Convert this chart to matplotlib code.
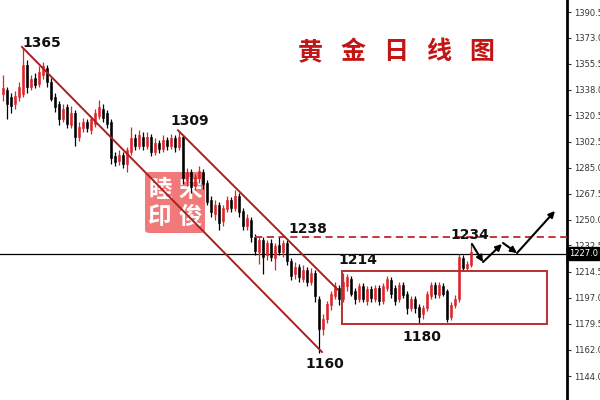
import matplotlib
matplotlib.use("Agg")
import matplotlib.pyplot as plt
from matplotlib.patches import Rectangle, FancyBboxPatch
import numpy as np

# ---------------- data ----------------
opens = [1335,1338,1333,1328,1333,1335,1355,1340,1346,1342,1348,1353,1343,1333,1328,1318,1326,1314,1322,1306,
         1312,1316,1311,1315,1320,1325,1322,1316,1293,1290,1294,1288,1296,1305,1300,1306,1300,1306,1296,1302,
         1298,1304,1300,1305,1299,1306,1276,1282,1273,1278,1282,1275,1263,1254,1260,1249,1257,1263,1258,1266,
         1256,1246,1250,1238,1228,1236,1226,1234,1224,1233,1228,1234,1222,1213,1218,1210,1216,1208,1214,1196,
         1176,1183,1192,1198,1204,1196,1205,1210,1202,1196,1205,1195,1203,1196,1204,1195,1204,1209,1204,1196,
         1206,1200,1190,1196,1191,1186,1190,1198,1206,1199,1205,1202,1184,1192,1196,1224,1217,1219]
highs = [1348,1340,1336,1337,1343,1366,1358,1348,1349,1354,1357,1355,1346,1336,1330,1328,1328,1327,1324,1316,
         1319,1318,1320,1325,1331,1328,1324,1318,1296,1297,1296,1299,1313,1308,1311,1309,1309,1308,1305,1304,
         1307,1306,1308,1307,1310,1307,1285,1284,1281,1286,1284,1277,1266,1263,1262,1260,1266,1265,1270,1268,
         1258,1254,1252,1240,1238,1238,1236,1237,1234,1238,1236,1236,1224,1221,1220,1219,1218,1217,1216,1198,
         1186,1195,1202,1208,1206,1214,1213,1212,1204,1207,1207,1205,1205,1206,1206,1207,1212,1211,1206,1208,
         1208,1202,1198,1198,1193,1192,1202,1208,1208,1208,1207,1203,1194,1199,1227,1226,1222,1234]
lows = [1330,1318,1322,1325,1330,1333,1336,1338,1339,1340,1345,1340,1330,1323,1314,1316,1312,1312,1300,1303,
        1309,1309,1308,1313,1318,1316,1312,1288,1286,1287,1285,1282,1294,1297,1298,1297,1298,1293,1294,1295,
        1296,1297,1298,1296,1297,1274,1273,1268,1270,1275,1271,1260,1252,1250,1243,1246,1255,1255,1256,1252,
        1243,1243,1235,1226,1220,1213,1223,1222,1216,1226,1225,1219,1209,1210,1208,1208,1205,1206,1194,1160,
        1172,1180,1189,1196,1192,1194,1202,1198,1193,1194,1194,1192,1194,1194,1192,1193,1202,1197,1192,1194,
        1197,1186,1188,1187,1180,1183,1188,1196,1197,1197,1198,1181,1182,1190,1194,1215,1216,1218]
closes = [1339,1328,1327,1334,1340,1355,1340,1345,1341,1350,1354,1343,1332,1326,1318,1325,1315,1322,1306,1313,
          1316,1312,1318,1322,1326,1319,1315,1292,1289,1294,1288,1297,1305,1300,1307,1300,1306,1296,1302,1298,
          1304,1300,1305,1299,1306,1278,1282,1272,1279,1283,1274,1262,1255,1260,1248,1258,1263,1258,1266,1255,
          1246,1251,1238,1229,1236,1225,1234,1225,1232,1228,1234,1222,1212,1218,1211,1216,1208,1214,1198,1176,
          1183,1193,1200,1205,1196,1208,1211,1200,1196,1205,1196,1203,1197,1204,1195,1205,1210,1200,1195,1206,
          1199,1190,1196,1190,1184,1190,1200,1206,1200,1206,1200,1183,1192,1196,1225,1217,1220,1228]

tick_values = [1390.57,1373.07,1355.57,1338.07,1320.57,1302.57,1285.07,1267.57,1250.07,1232.57,
               1214.57,1197.07,1179.57,1162.07,1144.07]
tick_labels = ['1390.57','1373.07','1355.57','1338.07','1320.57','1302.57','1285.07','1267.57','1250.07',
               '1232.57','1214.57','1197.07','1179.57','1162.07','1144.07']

current_price = 1227.0
resistance = 1238
box_top, box_bottom = 1215.2, 1179.3

label_texts = ['1365', '1309', '1238', '1214', '1180', '1160', '1234']
label_x = [9.75, 46.75, 76.25, 88.75, 104.75, 80.5, 116.75]
label_y = [1369.6, 1316.8, 1243.7, 1222.7, 1170.5, 1152.3, 1239.6]

title_chars = ['黄', '金', '日', '线', '图']
seal_chars = ['睦', '印', '宋', '俊']

# ---------------- figure ----------------
fig = plt.figure(figsize=(6, 4), dpi=100)
ax = fig.add_axes([0, 0, 567/600, 1])
ax.set_xlim(-0.75, 141)
ax.set_ylim(1127.9, 1398.7)

RED = '#e0232a'
n = len(opens)
x = np.arange(n)
for i in range(n):
    o, h, l, c = opens[i], highs[i], lows[i], closes[i]
    col = RED if c >= o else 'black'
    ax.vlines(x[i], l, h, color=col, lw=0.9, zorder=3)
    ax.add_patch(Rectangle((x[i]-0.3, min(o, c)), 0.6, max(abs(c-o), 0.4),
                           facecolor=col, edgecolor=col, lw=0.4, zorder=3))

# current price line
ax.axhline(current_price, color='black', lw=0.9, zorder=2)
# resistance dashed
ax.plot([63.0, 141], [resistance, resistance], color='#c0292b', lw=1.3, ls=(0, (4, 2.5)), zorder=4)

# channel lines
CH = '#a8201f'
ax.plot([4.75, 79.75], [1366.9, 1160.4], color=CH, lw=1.4, zorder=4)
ax.plot([43.75, 83.75], [1310.5, 1202.4], color=CH, lw=1.4, zorder=4)

# range box
ax.add_patch(Rectangle((84.75, box_bottom), 136.0-84.75, box_top-box_bottom,
                       fill=False, edgecolor='#b83030', lw=1.4, zorder=4))

# arrows
arrows = [((117.25, 1233.5), (120.0, 1221.3)),
          ((120.0, 1221.3), (124.75, 1233.5)),
          ((125.0, 1234.2), (128.5, 1227.4)),
          ((128.5, 1227.4), (138.0, 1255.9))]
for s, e in arrows:
    ax.annotate('', xy=e, xytext=s,
                arrowprops=dict(arrowstyle='-|>', color='black', lw=1.5,
                                mutation_scale=9, shrinkA=0, shrinkB=0), zorder=5)

# price labels
for t, lx, ly in zip(label_texts, label_x, label_y):
    ax.text(lx, ly, t, ha='center', va='center', fontsize=10, fontweight='bold',
            family='DejaVu Sans', color='#111111', zorder=6)

# title
for k, ch in enumerate(title_chars):
    fig.text((310 + 43*k)/600, 1 - 52/400, ch, ha='center', va='center', fontsize=18,
             fontweight='bold', family=['Noto Sans CJK SC', 'DejaVu Sans'], color='#c21515')

# seal
seal = FancyBboxPatch((145/600, 1-233/400), 60/600, 61/400, boxstyle='round,pad=0,rounding_size=0.008',
                      transform=fig.transFigure, facecolor='#f06a6a', edgecolor='none', alpha=0.9, zorder=1)
ax.add_patch(seal)
for ch, px, py in zip(seal_chars, [160, 160, 190, 190], [190, 217, 190, 217]):
    ax.text(px/600, 1-py/400, ch, transform=fig.transFigure, ha='center', va='center', fontsize=17,
            fontweight='bold', family=['Noto Sans CJK SC', 'DejaVu Sans'], color='white', zorder=2)

# right axis
for sp in ['top', 'left', 'bottom']:
    ax.spines[sp].set_visible(False)
ax.spines['right'].set_linewidth(2)
ax.set_xticks([])
ax.yaxis.tick_right()
ax.set_yticks(tick_values)
ax.set_yticklabels(tick_labels)
ax.tick_params(axis='y', labelsize=6, colors='#333333', length=3, width=0.8, pad=2)
ax.text(1.003, current_price, '1227.0', transform=ax.get_yaxis_transform(), ha='left', va='center',
        fontsize=6, color='white', zorder=7, clip_on=False,
        bbox=dict(boxstyle='square,pad=0.2', facecolor='black', edgecolor='black'))

fig.savefig('out.png', dpi=100, facecolor='white')
